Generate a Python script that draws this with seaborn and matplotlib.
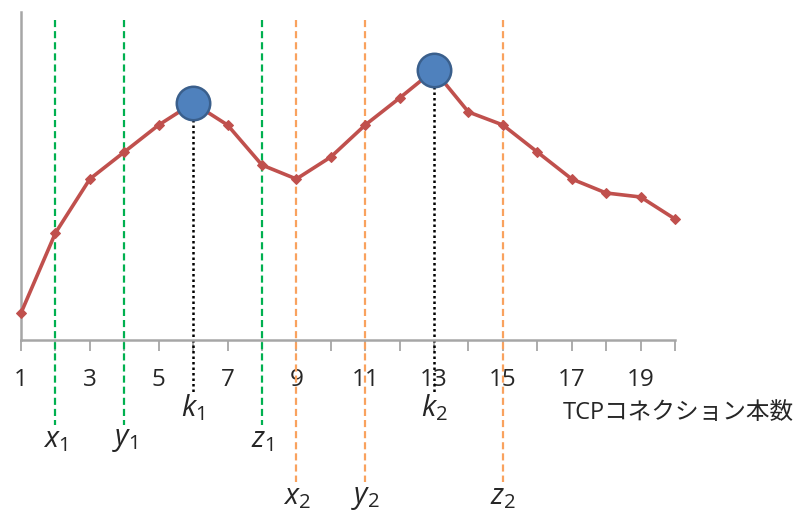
import matplotlib
matplotlib.use("Agg")
import matplotlib.pyplot as plt
import seaborn as sns
import pandas as pd

# Throughput versus number of TCP connections
connections = list(range(1, 21))
throughput = [27, 107, 161, 188, 215, 237, 215, 175, 161, 183,
              215, 242, 270, 228, 215, 188, 161, 147, 143, 121]

# Peaks (k1, k2)
peak_x = [6, 13]
peak_labels = ["k", "k"]
peak_subs = ["1", "2"]

# Reference lines for the first and second peak
group1_x = [2, 4, 8]
group1_names = ["x", "y", "z"]
group2_x = [9, 11, 15]
group2_names = ["x", "y", "z"]

tick_positions = list(range(1, 21))
tick_labels = [str(v) if v % 2 == 1 else "" for v in tick_positions]
xlabel_text = "TCPコネクション本数"

sns.set_theme(style="white")
plt.rcParams["font.family"] = ["Open Sans", "Noto Sans CJK JP", "DejaVu Sans"]
plt.rcParams["mathtext.fontset"] = "custom"
plt.rcParams["mathtext.it"] = "Open Sans:italic"
plt.rcParams["mathtext.rm"] = "Open Sans"

df = pd.DataFrame({"n": connections, "tp": throughput})
peaks = df[df["n"].isin(peak_x)]

fig = plt.figure(figsize=(7.98, 5.14), dpi=100)
ax = fig.add_axes([21 / 798, 1 - 340 / 514, 654 / 798, 328 / 514])

GREEN = "#00B050"
ORANGE = "#F9A25E"
RED = "#C0504D"
BLUE = "#4F81BD"
GRAY = "#A6A6A6"

for xv in group1_x:
    ax.plot([xv, xv], [320, -85], color=GREEN, lw=1.6, ls=(0, (3.2, 1.8)),
            clip_on=False, zorder=1)
for xv in group2_x:
    ax.plot([xv, xv], [320, -142], color=ORANGE, lw=1.6, ls=(0, (3.2, 1.8)),
            clip_on=False, zorder=1)
for xv, yv in zip(peaks["n"], peaks["tp"]):
    ax.plot([xv, xv], [yv, -52], color="black", lw=1.8, ls=(0, (1, 1.2)),
            clip_on=False, zorder=1)

sns.lineplot(data=df, x="n", y="tp", ax=ax, color=RED, lw=2.6,
             marker="D", markersize=5, markeredgecolor=RED, zorder=3,
             clip_on=False)
sns.scatterplot(data=peaks, x="n", y="tp", ax=ax, s=580, color=BLUE,
                edgecolor="#3A5F8C", linewidth=1.8, zorder=4, clip_on=False)

ax.set_xlim(1, 20)
ax.set_ylim(0, 328)
ax.set_xticks(tick_positions)
ax.set_xticklabels(tick_labels, fontsize=17.5)
ax.set_yticks([])
ax.set_xlabel("")
ax.set_ylabel("")
ax.tick_params(axis="x", direction="out", length=8, width=1.3, color=GRAY,
               pad=12, bottom=True)

for side in ["top", "right"]:
    ax.spines[side].set_visible(False)
for side in ["left", "bottom"]:
    ax.spines[side].set_color(GRAY)
    ax.spines[side].set_linewidth(1.8)

def sub_label(x, y, name, sub):
    ax.text(x, y, rf"$\mathit{{{name}}}_{{\mathit{{{sub}}}}}$", ha="center",
            va="center", fontsize=21, clip_on=False)

for xv, name, s in zip(peak_x, peak_labels, peak_subs):
    sub_label(xv, -68, name, s)
for xv, name in zip(group1_x, group1_names):
    sub_label(xv, -100, name, "1")
for xv, name in zip(group2_x, group2_names):
    sub_label(xv, -157, name, "2")

ax.text(563 / 798, 1 - 413 / 514, xlabel_text, transform=fig.transFigure,
        ha="left", va="center", fontsize=17)

fig.savefig("out.png", dpi=100)
